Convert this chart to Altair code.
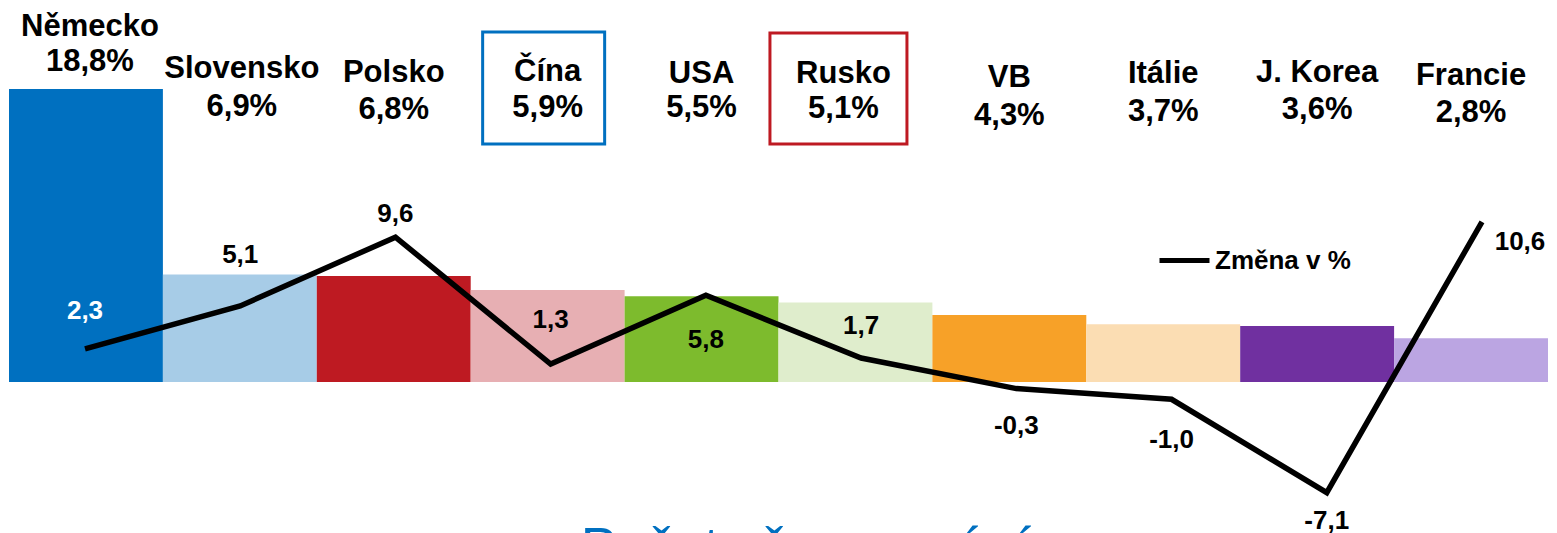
import altair as alt
import pandas as pd

# ---- data ----
countries = ['Německo', 'Slovensko', 'Polsko', 'Čína', 'USA', 'Rusko', 'VB', 'Itálie', 'J. Korea', 'Francie']
share = [18.8, 6.9, 6.8, 5.9, 5.5, 5.1, 4.3, 3.7, 3.6, 2.8]          # podíl v %
change = [2.3, 5.1, 9.6, 1.3, 5.8, 1.7, -0.3, -1.0, -7.1, 10.6]      # změna v %
share_text = ['18,8%', '6,9%', '6,8%', '5,9%', '5,5%', '5,1%', '4,3%', '3,7%', '3,6%', '2,8%']
change_text = ['2,3', '5,1', '9,6', '1,3', '5,8', '1,7', '-0,3', '-1,0', '-7,1', '10,6']
series_name = 'Změna v %'
title_top = 'Počet hostů'
title_bottom = 'Počet přenocování'

# ---- styling ----
bar_colors = ['#0070C0', '#A7CCE7', '#BE1A22', '#E7AFB3', '#7DBB2D',
              '#DFEDCC', '#F7A128', '#FBDDB3', '#7030A0', '#BBA5E2']
name_y_px = [19, 61, 65, 64, 65.5, 66, 70, 66, 65, 68]     # label placement (px)
pct_y_px = [54, 99, 102, 100, 100, 100.5, 108, 104, 102, 105]
name_dx_px = [4, 2, 0, 0, 0, -12, 0, 0, 0, 0]
label_dy_px = [-38, -51, -23, -44, 45, -32, 37, 41, 28, 20]  # change-label nudges
FONT = 'Liberation Sans'

df = pd.DataFrame({
    'country': countries, 'share': share, 'chg': change,
    'share_t': share_text, 'chg_t': change_text,
    'ny': name_y_px, 'py': pct_y_px, 'ndx': name_dx_px, 'ldy': label_dy_px,
    'series': [series_name] * len(countries),
})

W, H = 1541, 530
bar_x = alt.Scale(type='band', domain=countries, range=[1, 1540], paddingInner=0, paddingOuter=0)
line_x = alt.Scale(type='point', domain=countries, range=[77, 1474], padding=0)
bar_y = alt.Scale(domain=[-10.01, 24.0], nice=False, zero=False)
line_y = alt.Scale(domain=[-10.065, 24.575], nice=False, zero=False)

base = alt.Chart(df)

bars = base.mark_bar(opacity=1).encode(
    x=alt.X('country:N', scale=bar_x, axis=None, sort=countries),
    y=alt.Y('share:Q', scale=bar_y, axis=None),
    y2=alt.datum(0),
    fill=alt.Fill('country:N', scale=alt.Scale(domain=countries, range=bar_colors), legend=None),
)

# label centre = band centre + small nudge (band centre computed from the band scale layout)
lab_base = base.transform_window(
    idx='row_number()'
).transform_calculate(
    lx='1 + (datum.idx - 0.5) * 153.9 + datum.ndx'
)
names = lab_base.mark_text(font=FONT, fontWeight='bold', fontSize=31, baseline='middle', color='black').encode(
    x=alt.X('lx:Q', scale=None),
    y=alt.Y('ny:Q', scale=None),
    text='country:N',
)
pcts = lab_base.mark_text(font=FONT, fontWeight='bold', fontSize=31, baseline='middle', color='black').encode(
    x=alt.X('lx:Q', scale=None),
    y=alt.Y('py:Q', scale=None),
    text='share_t:N',
)

box_cina = base.transform_filter(alt.datum.country == 'Čína').mark_bar(
    fill='transparent', stroke='#0070C0', strokeWidth=3, width=122, xOffset=-4
).encode(
    x=alt.X('country:N', scale=bar_x, axis=None, sort=countries),
    y=alt.value(24), y2=alt.value(136),
)
box_rusko = base.transform_filter(alt.datum.country == 'Rusko').mark_bar(
    fill='transparent', stroke='#BE1A22', strokeWidth=3, width=137, xOffset=-17
).encode(
    x=alt.X('country:N', scale=bar_x, axis=None, sort=countries),
    y=alt.value(25), y2=alt.value(136),
)

line = base.mark_line(strokeWidth=5.5, strokeJoin='miter').encode(
    x=alt.X('country:N', scale=line_x, axis=None, sort=countries),
    y=alt.Y('chg:Q', scale=line_y, axis=None),
    stroke=alt.Stroke('series:N', scale=alt.Scale(domain=[series_name], range=['black']),
                      legend=alt.Legend(orient='none', legendX=1149, legendY=225, title=None,
                                        symbolType='stroke', symbolSize=2500, symbolStrokeWidth=5,
                                        labelFont=FONT, labelFontWeight='bold', labelFontSize=26,
                                        labelColor='black', labelOffset=3)),
)

chg_labels = base.transform_filter(alt.datum.country != 'Francie').transform_calculate(
    ly='datum.chg - datum.ldy / 15.3'
).mark_text(font=FONT, fontWeight='bold', fontSize=26, baseline='middle').encode(
    x=alt.X('country:N', scale=line_x, axis=None, sort=countries),
    y=alt.Y('ly:Q', scale=line_y, axis=None),
    text='chg_t:N',
    color=alt.condition(alt.datum.country == 'Německo', alt.value('white'), alt.value('black')),
)
chg_label_last = base.transform_filter(alt.datum.country == 'Francie').transform_calculate(
    ly='datum.chg - datum.ldy / 15.3'
).mark_text(font=FONT, fontWeight='bold', fontSize=26, baseline='middle', dx=38, color='black').encode(
    x=alt.X('country:N', scale=line_x, axis=None, sort=countries),
    y=alt.Y('ly:Q', scale=line_y, axis=None),
    text='chg_t:N',
)

titles = alt.Chart(pd.DataFrame({'t': [title_top, title_bottom], 'ty': [-2, 557], 'tx': [780, 798]})).mark_text(
    font=FONT, fontSize=54, color='#0070C0', baseline='alphabetic', clip=True
).encode(
    x=alt.X('tx:Q', scale=None), y=alt.Y('ty:Q', scale=None), text='t:N'
)

chart = alt.layer(
    bars, box_cina, box_rusko, names, pcts, line, chg_labels, chg_label_last, titles
).resolve_scale(x='independent', y='independent').properties(
    width=W, height=H, padding=0, autosize=alt.AutoSizeParams(type='none')
).configure_view(stroke=None)

chart.save('out.html', embed_options={'renderer': 'svg', 'actions': False})
